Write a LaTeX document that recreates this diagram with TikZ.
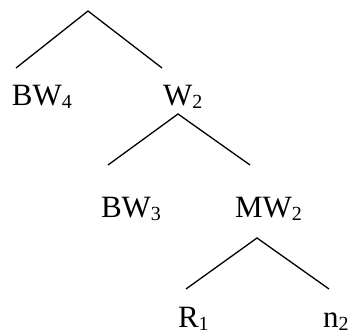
\documentclass[tikz,border=0pt]{standalone}
\usepackage{fontspec}
\setmainfont{Liberation Serif}
\newcommand{\sbs}[1]{\raisebox{-2.5pt}{\fontsize{20}{22}\selectfont #1}}
\tikzset{
  lbl/.style={anchor=base west, inner sep=0pt, outer sep=0pt, font=\fontsize{31}{36}\selectfont},
  branch/.style={line width=1.3pt, line cap=butt}
}
\begin{document}
\begin{tikzpicture}[x=1pt,y=1pt]
\useasboundingbox (0,0) rectangle (351,334);
% tree 1
\coordinate (a1) at (88,323);
\coordinate (a1l) at (16,266);
\coordinate (a1r) at (162,266);
\draw[branch] (a1l) -- (a1) -- (a1r);
\node[lbl] (bw4) at (12,228) {BW\sbs{4}};
\node[lbl] (w2) at (163,228) {W\sbs{2}};
% tree 2
\coordinate (a2) at (178,220);
\coordinate (a2l) at (108,169);
\coordinate (a2r) at (250,169);
\draw[branch] (a2l) -- (a2) -- (a2r);
\node[lbl] (bw3) at (101,116) {BW\sbs{3}};
\node[lbl] (mw2) at (235,116) {MW\sbs{2}};
% tree 3
\coordinate (a3) at (257,96);
\coordinate (a3l) at (186,45);
\coordinate (a3r) at (329,45);
\draw[branch] (a3l) -- (a3) -- (a3r);
\node[lbl] (r1) at (178,6) {R\sbs{1}};
\node[lbl] (n2) at (323,6) {n\sbs{2}};
\end{tikzpicture}
\end{document}
